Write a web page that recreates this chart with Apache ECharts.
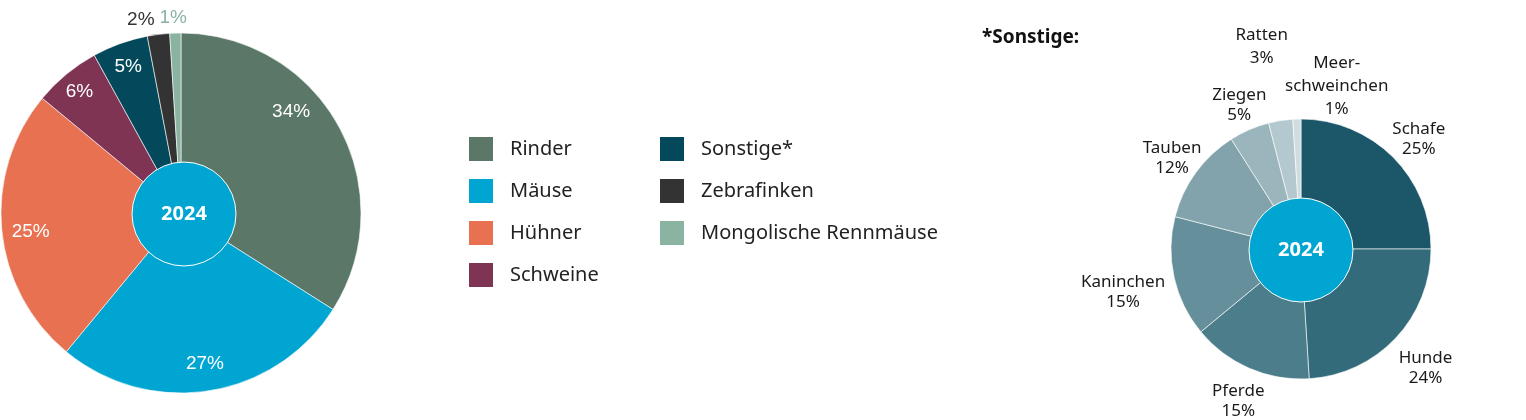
<!DOCTYPE html>
<html>
<head>
<meta charset="utf-8">
<script src="https://cdn.jsdelivr.net/npm/echarts@6/dist/echarts.min.js"></script>
<style>
  html, body { margin: 0; padding: 0; background: #fff; }
  #chart { width: 1526px; height: 420px; }
</style>
</head>
<body>
<div id="chart"></div>
<script>
// Tierarten 2024 (Anteil in %)
const mainNames = ['Rinder', 'Mäuse', 'Hühner', 'Schweine', 'Sonstige*', 'Zebrafinken', 'Mongolische Rennmäuse'];
const mainValues = [34, 27, 25, 6, 5, 2, 1];
const mainColors = ['#5a7767', '#00a5d1', '#e77150', '#7e3452', '#03495b', '#333333', '#8ab3a2'];

// aufgeschlüsselt: Sonstige
const otherNames = ['Schafe', 'Hunde', 'Pferde', 'Kaninchen', 'Tauben', 'Ziegen', 'Ratten', 'Meer-\nschweinchen'];
const otherValues = [25, 24, 15, 15, 12, 5, 3, 1];
const otherColors = ['#1b5769', '#336b7b', '#4b7e8a', '#658f9b', '#82a3ab', '#9bb5bd', '#b4c9cf', '#cfdde1'];

const yearLabel = '2024';

const chart = echarts.init(document.getElementById('chart'));

// kleine Verschiebungen einzelner Beschriftungen
const mainLabelShift = { 0: [-24, -28], 2: [2, 4], 3: [-4, -3], 4: [-1, -2], 5: [-21, -41], 6: [-3, -42] };
const otherLabelShift = { 0: [-1, 9], 1: [2, 4], 2: [4, -2], 3: [-14, 7], 4: [7, 8], 5: [5, 10], 6: [-13, -36], 7: [41, 5] };

const mainData = mainNames.map((n, i) => ({ name: n, value: mainValues[i], itemStyle: { color: mainColors[i] } }));
const mainLabelData = mainNames.map((n, i) => {
    const item = { name: n, value: mainValues[i] };
    if (i === 5) item.label = { color: '#333333' };
    if (i === 6) item.label = { color: '#8ab3a2' };
    return item;
});
const otherData = otherNames.map((n, i) => ({ name: n, value: otherValues[i], itemStyle: { color: otherColors[i] } }));
const otherLabelData = otherNames.map((n, i) => {
    const item = { name: n, value: otherValues[i] };
    // die beiden obersten Beschriftungen stehen lockerer
    if (i >= 6) item.label = { lineHeight: 23 };
    return item;
});

const centerCircle = (c) => ({
    type: 'pie',
    center: c,
    radius: [0, 52],
    silent: true,
    legendHoverLink: false,
    itemStyle: { color: '#00a5d1', borderColor: '#ffffff', borderWidth: 1 },
    label: {
        show: true, position: 'center', formatter: '{b}',
        color: '#ffffff', fontSize: 20, fontWeight: 'bold', fontFamily: 'Noto Sans'
    },
    labelLine: { show: false },
    data: [{ name: yearLabel, value: 1 }]
});

const legendBase = {
    orient: 'vertical',
    top: 135,
    itemWidth: 26,
    itemHeight: 26,
    itemGap: 14,
    icon: 'rect',
    selectedMode: false,
    padding: 0,
    textStyle: { fontSize: 20, color: '#222222', fontFamily: 'Noto Sans', padding: [0, 0, 0, 11] }
};

chart.setOption({
    animation: false,
    title: {
        text: '*Sonstige:',
        left: 977,
        top: 23,
        textStyle: { fontSize: 19, fontWeight: 'bold', color: '#111111', fontFamily: 'Noto Sans' }
    },
    legend: [
        { ...legendBase, left: 467, data: mainNames.slice(0, 4) },
        { ...legendBase, left: 658, data: mainNames.slice(4) }
    ],
    series: [
        {
            type: 'pie',
            center: [181, 213],
            radius: [0, 180],
            startAngle: 90,
            clockwise: true,
            silent: true,
            itemStyle: { borderColor: '#ffffff', borderWidth: 0.6 },
            label: { show: false },
            labelLine: { show: false },
            data: mainData
        },
        {
            type: 'pie',
            center: [181, 213],
            radius: [120, 180],
            startAngle: 90,
            silent: true,
            legendHoverLink: false,
            itemStyle: { color: 'rgba(0,0,0,0)' },
            label: {
                show: true, position: 'inside', formatter: '{c}%',
                color: '#ffffff', fontSize: 19, fontFamily: 'Liberation Sans'
            },
            labelLine: { show: false },
            labelLayout: (p) => {
                const s = mainLabelShift[p.dataIndex];
                return s ? { dx: s[0], dy: s[1] } : {};
            },
            data: mainLabelData
        },
        centerCircle([184, 214]),
        {
            type: 'pie',
            center: [1301, 249],
            radius: [0, 130],
            startAngle: 90,
            silent: true,
            itemStyle: { borderColor: '#ffffff', borderWidth: 0.6 },
            label: { show: false },
            labelLine: { show: false },
            data: otherData
        },
        {
            type: 'pie',
            center: [1301, 249],
            radius: [130, 200],
            startAngle: 90,
            silent: true,
            legendHoverLink: false,
            itemStyle: { color: 'rgba(0,0,0,0)' },
            label: {
                show: true, position: 'inside', formatter: '{b}\n{c}%',
                color: '#1a1a1a', fontSize: 17, lineHeight: 20, fontFamily: 'Noto Sans'
            },
            labelLine: { show: false },
            labelLayout: (p) => {
                const s = otherLabelShift[p.dataIndex];
                return s ? { dx: s[0], dy: s[1] } : {};
            },
            data: otherLabelData
        },
        centerCircle([1301, 250])
    ]
});
</script>
</body>
</html>
